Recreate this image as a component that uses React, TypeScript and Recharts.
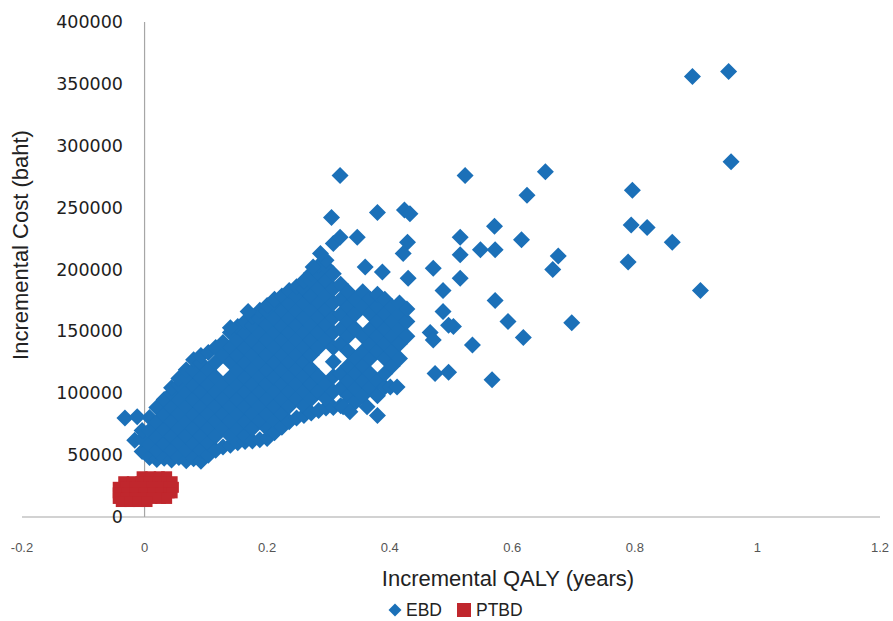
import { Legend, ReferenceLine, Scatter, ScatterChart, XAxis, YAxis } from "recharts";

const EBD_COLOR = "#1b70b8";
const PTBD_COLOR = "#c0272d";
const AXIS_COLOR = "#a6a6a6";

const xTicks = [-0.2, 0, 0.2, 0.4, 0.6, 0.8, 1, 1.2];
const yTicks = [0, 50000, 100000, 150000, 200000, 250000, 300000, 350000, 400000];

// EBD, dense part of the cloud: [incremental QALY, incremental costs at that QALY]
const ebdCloud: [number, number[]][] = [
  [-0.016, [62000]],
  [-0.004, [53000, 63000, 70000]],
  [0.008, [48000, 58500, 70000, 80500]],
  [0.02, [46500, 53500, 64500, 76500, 88500]],
  [0.032, [47500, 59000, 70500, 82500, 95000]],
  [0.044, [46000, 53500, 65000, 77000, 88500, 100000, 104500]],
  [0.056, [48000, 59500, 71000, 83000, 94500, 106500, 112000]],
  [0.068, [45500, 54000, 65500, 77000, 89000, 100500, 112500, 119000]],
  [0.08, [47000, 59500, 71500, 83000, 95000, 106500, 118500, 127000]],
  [0.092, [45000, 54000, 65500, 77500, 89000, 101000, 112500, 124500, 130500]],
  [0.104, [50000, 59500, 71500, 83500, 95000, 107000, 119000, 133000]],
  [0.116, [54000, 65500, 77500, 89500, 101000, 113000, 125000, 137000]],
  [0.128, [56500, 71500, 83500, 95500, 107000, 131000, 141000]],
  [0.14, [58000, 65500, 77500, 89500, 101500, 113000, 125000, 137000, 149000]],
  [0.152, [60000, 71000, 83000, 95000, 106500, 118500, 130500, 142500, 154000]],
  [0.164, [61000, 65500, 77000, 89000, 101000, 112500, 124500, 136500, 148500, 158000]],
  [0.176, [61500, 71500, 83500, 95000, 107000, 119000, 131000, 142500, 154500, 162000]],
  [0.188, [62500, 77500, 89500, 101000, 113000, 125000, 136500, 148500, 160500, 167000]],
  [0.2, [63500, 71500, 83500, 95500, 107500, 119000, 131000, 143000, 155000, 166500, 171000]],
  [0.212, [68000, 77500, 89500, 101500, 113000, 125000, 137000, 149000, 160500, 172500, 176000]],
  [0.224, [72500, 83500, 95500, 107500, 119000, 131000, 143000, 154500, 166500, 178500]],
  [0.236, [77000, 89500, 101500, 113000, 125000, 137000, 149000, 160500, 172500, 183000]],
  [0.248, [80000, 95500, 107500, 119000, 131000, 143000, 155000, 166500, 178500, 186000]],
  [0.26, [82000, 89500, 101500, 113500, 125000, 137000, 149000, 161000, 172500, 184500, 191000]],
  [0.272, [84000, 95500, 107500, 119500, 131000, 143000, 155000, 167000, 178500, 190500, 197000]],
  [0.284, [86000, 101500, 113500, 137000, 149000, 161000, 173000, 184500, 196500, 203000]],
  [0.296, [88000, 95500, 107500, 143000, 155000, 167000, 179000, 190500, 202500, 207500]],
  [0.308, [88500, 101500, 113500, 125500, 137000, 149000, 161000, 173000, 184500, 196500]],
  [0.32, [90000, 104000, 116000, 140000, 152000, 164000, 176000, 188000]],
  [0.332, [98000, 110000, 122000, 134000, 146000, 158000, 170000, 182000]],
  [0.344, [93000, 104000, 116000, 128000, 152000, 164000, 176000]],
  [0.356, [98000, 110000, 122000, 134000, 146000, 170000, 182000]],
  [0.368, [104000, 116000, 128000, 140000, 152000, 164000, 176000]],
  [0.38, [98000, 110000, 134000, 146000, 158000, 170000, 180000]],
  [0.392, [105000, 116000, 128000, 140000, 152000, 164000, 176000]],
  [0.404, [122000, 134000, 146000, 158000, 170000]],
  [0.416, [128000, 140000, 152000, 164000, 173000]],
  [0.428, [146000, 158000, 168000]],
];

// EBD, isolated points: [incremental QALY, incremental cost]
const ebdScattered: [number, number][] = [
  [-0.032, 80000], [-0.012, 81000], [0.14, 153000], [0.169, 166000],
  [0.275, 202000], [0.287, 213000], [0.308, 221000], [0.319, 226000],
  [0.305, 242000], [0.319, 276000], [0.347, 226000], [0.36, 202000],
  [0.388, 198000], [0.38, 246000], [0.424, 248000], [0.433, 245000],
  [0.429, 222000], [0.422, 213000], [0.43, 193000], [0.471, 201000],
  [0.515, 226000], [0.515, 212000], [0.548, 216000], [0.572, 216000],
  [0.571, 235000], [0.515, 193000], [0.487, 183000], [0.572, 175000],
  [0.487, 166000], [0.504, 154000], [0.496, 155000], [0.466, 149000],
  [0.471, 143000], [0.535, 139000], [0.474, 116000], [0.496, 117000],
  [0.567, 111000], [0.401, 105000], [0.412, 105000], [0.363, 89000],
  [0.38, 82000], [0.324, 89000], [0.335, 85000], [0.523, 276000],
  [0.615, 224000], [0.624, 260000], [0.654, 279000], [0.675, 211000],
  [0.666, 200000], [0.593, 158000], [0.618, 145000], [0.697, 157000],
  [0.796, 264000], [0.794, 236000], [0.82, 234000], [0.861, 222000],
  [0.789, 206000], [0.907, 183000], [0.894, 356000], [0.953, 360000],
  [0.957, 287000],
];

// PTBD: [incremental cost, incremental QALYs at that cost]
const ptbdRows: [number, number[]][] = [
  [32500, [-0.004, 0.01, 0.024, 0.036]],
  [28500, [-0.034, -0.02, -0.006, 0.008, 0.022, 0.036, 0.045]],
  [24000, [-0.043, -0.03, -0.016, -0.002, 0.012, 0.026, 0.04, 0.047]],
  [19500, [-0.043, -0.029, -0.015, -0.001, 0.013, 0.027, 0.04, 0.045]],
  [15000, [-0.043, -0.03, -0.016, -0.002, 0.012, 0.026, 0.036]],
  [12500, [-0.038, -0.024, -0.01, 0.004]],
];

const ebdData = [
  ...ebdCloud.flatMap(([qaly, costs]) => costs.map((cost) => ({ qaly, cost }))),
  ...ebdScattered.map(([qaly, cost]) => ({ qaly, cost })),
];

const ptbdData = ptbdRows.flatMap(([cost, qalys]) =>
  qalys.map((qaly) => ({ qaly, cost })),
);

function DiamondShape(props: any) {
  const { cx, cy } = props;
  if (cx == null || cy == null) return null;
  const r = 8.5;
  return (
    <path
      d={`M${cx},${cy - r}L${cx + r},${cy}L${cx},${cy + r}L${cx - r},${cy}Z`}
      fill={EBD_COLOR}
    />
  );
}

function SquareShape(props: any) {
  const { cx, cy } = props;
  if (cx == null || cy == null) return null;
  return <rect x={cx - 5.5} y={cy - 5.5} width={11} height={11} fill={PTBD_COLOR} />;
}

function XTick(props: any) {
  const { x, y, payload } = props;
  return (
    <text
      x={x}
      y={y + 30}
      textAnchor="middle"
      dominantBaseline="central"
      fontFamily='"Liberation Sans", Arial, sans-serif'
      fontSize={13}
      fill="#555"
    >
      {String(payload.value)}
    </text>
  );
}

function YTick(props: any) {
  const { y, payload } = props;
  return (
    <text
      x={123}
      y={y}
      textAnchor="end"
      dominantBaseline="central"
      fontFamily='"DejaVu Sans", sans-serif'
      fontSize={17.5}
      fill="#1e1e1e"
    >
      {String(payload.value)}
    </text>
  );
}

function LegendContent() {
  return (
    <div
      style={{
        display: "flex",
        alignItems: "center",
        fontFamily: '"Liberation Sans", Arial, sans-serif',
        fontSize: 17.5,
        color: "#222",
        lineHeight: "18px",
      }}
    >
      <svg width={14} height={14}>
        <path d="M7,0.5L13.5,7L7,13.5L0.5,7Z" fill={EBD_COLOR} />
      </svg>
      <span style={{ marginLeft: 4 }}>EBD</span>
      <svg width={14} height={14} style={{ marginLeft: 15 }}>
        <rect x={0} y={0} width={14} height={14} fill={PTBD_COLOR} />
      </svg>
      <span style={{ marginLeft: 5 }}>PTBD</span>
    </div>
  );
}

export default function App() {
  return (
    <div
      style={{
        position: "absolute",
        left: 0,
        top: 0,
        width: 893,
        height: 621,
        background: "#fff",
      }}
    >
      <ScatterChart
        width={893}
        height={621}
        margin={{ top: 22, right: 13, bottom: 74, left: 0 }}
      >
        <XAxis
          type="number"
          dataKey="qaly"
          domain={[-0.2, 1.2]}
          ticks={xTicks}
          height={30}
          tickLine={false}
          tickSize={0}
          tickMargin={0}
          axisLine={{ stroke: AXIS_COLOR, strokeWidth: 1.2 }}
          tick={<XTick />}
          label={{
            content: () => (
              <text
                x={508}
                y={586}
                textAnchor="middle"
                fontFamily='"Liberation Sans", Arial, sans-serif'
                fontSize={22}
                fill="#222"
              >
                Incremental QALY (years)
              </text>
            ),
          }}
        />
        <YAxis
          type="number"
          dataKey="cost"
          domain={[0, 400000]}
          ticks={yTicks}
          width={22}
          tickLine={false}
          axisLine={false}
          tick={<YTick />}
          label={{
            content: () => (
              <text
                transform="translate(28,245) rotate(-90)"
                textAnchor="middle"
                fontFamily='"Liberation Sans", Arial, sans-serif'
                fontSize={22}
                fill="#222"
              >
                Incremental Cost (baht)
              </text>
            ),
          }}
        />
        <ReferenceLine x={0} stroke={AXIS_COLOR} strokeWidth={1.2} />
        <Legend
          verticalAlign="middle"
          align="center"
          layout="horizontal"
          content={<LegendContent />}
          wrapperStyle={{ left: 388, top: 601, width: 200 }}
        />
        <Scatter
          name="EBD"
          data={ebdData}
          shape={DiamondShape}
          isAnimationActive={false}
        />
        <Scatter
          name="PTBD"
          data={ptbdData}
          shape={SquareShape}
          isAnimationActive={false}
        />
      </ScatterChart>
    </div>
  );
}
